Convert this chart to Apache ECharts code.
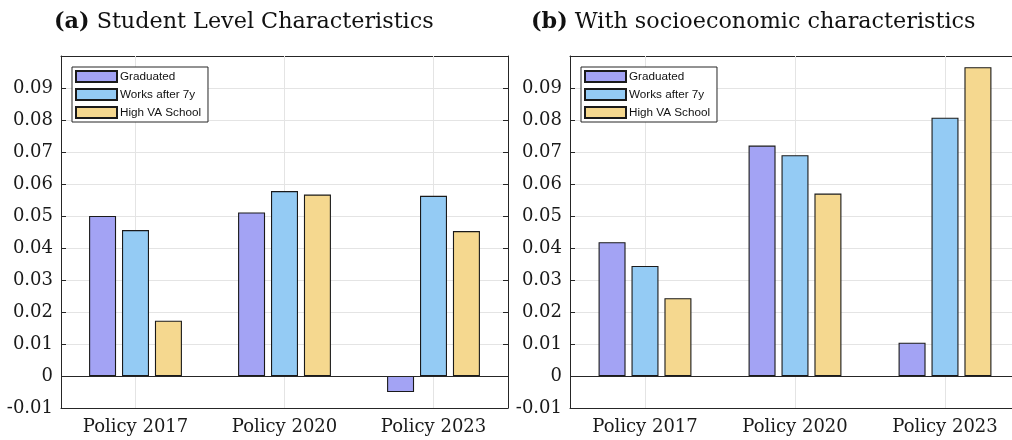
<!DOCTYPE html>
<html>
<head>
<meta charset="utf-8">
<script src="https://cdn.jsdelivr.net/npm/echarts@6/dist/echarts.min.js"></script>
<style>
  html, body { margin: 0; padding: 0; background: #fff; }
  #chart { width: 1012px; height: 440px; }
</style>
</head>
<body>
<div id="chart"></div>
<script>
// Policy groups on the x axis
const categories = ['Policy 2017', 'Policy 2020', 'Policy 2023'];
const seriesNames = ['Graduated', 'Works after 7y', 'High VA School'];

// Panel (a): student level characteristics
const studentGraduated = [0.0500, 0.0511, -0.0050];
const studentWorks     = [0.0456, 0.0578, 0.0563];
const studentHighVA    = [0.0173, 0.0567, 0.0453];

// Panel (b): with socioeconomic characteristics
const socioGraduated = [0.0418, 0.0720, 0.0104];
const socioWorks     = [0.0344, 0.0690, 0.0807];
const socioHighVA    = [0.0243, 0.0570, 0.0965];

// Value axis range shared by both panels
const yMin = -0.01;
const yMax = 0.10;
const yStep = 0.01;

const panelTitles = [
  { tag: '(a)', text: 'Student Level Characteristics' },
  { tag: '(b)', text: 'With socioeconomic characteristics' }
];

const colors = ['#a3a3f4', '#94cbf4', '#f5d88f'];
const serif = 'DejaVu Serif';
const ink = '#262626';

const chart = echarts.init(document.getElementById('chart'), null, { renderer: 'canvas' });

const grids = [
  { left: 61, top: 56, width: 447, height: 352 },
  { left: 570, top: 56, width: 450, height: 352 }
];
const titleLefts = [49, 526];

function fmtTick(v) {
  const r = Math.round(v * 100) / 100;
  if (Math.abs(r - yMax) < 1e-9) return '';
  if (r === 0) return '0';
  return r.toFixed(2);
}

const frameLine = { show: true, onZero: false, lineStyle: { color: ink, width: 1 } };

const xAxes = [], yAxes = [], series = [], legends = [], titles = [];
const panelData = [
  [studentGraduated, studentWorks, studentHighVA],
  [socioGraduated, socioWorks, socioHighVA]
];

grids.forEach((g, i) => {
  // bottom category axis with labels
  xAxes.push({
    type: 'category', gridIndex: i, data: categories, position: 'bottom',
    axisLine: frameLine,
    axisTick: { show: true, inside: true, length: 5, alignWithLabel: true, lineStyle: { color: ink } },
    axisLabel: { fontFamily: serif, fontSize: 18, color: '#1a1a1a', margin: 10 },
    splitLine: { show: false }
  });
  // top mirror axis: frame and ticks only
  xAxes.push({
    type: 'category', gridIndex: i, data: categories, position: 'top',
    axisLine: frameLine,
    axisTick: { show: true, inside: true, length: 5, alignWithLabel: true, lineStyle: { color: ink } },
    axisLabel: { show: false },
    splitLine: { show: false }
  });
  yAxes.push({
    type: 'value', gridIndex: i, min: yMin, max: yMax, interval: yStep, position: 'left',
    axisLine: frameLine,
    axisTick: { show: true, inside: true, length: 5, lineStyle: { color: ink } },
    axisLabel: { fontFamily: serif, fontSize: 18, color: '#1a1a1a', margin: 8, formatter: fmtTick },
    splitLine: { show: true, lineStyle: { color: '#e4e4e4', width: 1 } }
  });
  yAxes.push({
    type: 'value', gridIndex: i, min: yMin, max: yMax, interval: yStep, position: 'right',
    axisLine: frameLine,
    axisTick: { show: true, inside: true, length: 5, lineStyle: { color: ink } },
    axisLabel: { show: false },
    splitLine: { show: false }
  });

  const xi = i * 2, yi = i * 2;

  // vertical grid lines at the category centres, beneath the bars
  series.push({
    type: 'line', xAxisIndex: xi, yAxisIndex: yi, data: [], silent: true, z: 1,
    markLine: {
      silent: true, symbol: 'none', z: 1, animation: false,
      label: { show: false },
      lineStyle: { color: '#e4e4e4', type: 'solid', width: 1 },
      data: categories.map(c => ({ xAxis: c }))
    }
  });

  panelData[i].forEach((vals, k) => {
    series.push({
      name: seriesNames[k], type: 'bar', xAxisIndex: xi, yAxisIndex: yi,
      data: vals, barWidth: 27, barGap: '22%', z: 2,
      itemStyle: { color: colors[k], borderColor: '#1a1a1a', borderWidth: 1.1 },
      emphasis: { disabled: true },
      animation: false
    });
  });

  // baseline at zero
  series.push({
    type: 'line', xAxisIndex: xi, yAxisIndex: yi, data: [], silent: true, z: 3,
    markLine: {
      silent: true, symbol: 'none', z: 3, animation: false,
      label: { show: false },
      lineStyle: { color: ink, type: 'solid', width: 1 },
      data: [{ yAxis: 0 }]
    }
  });

  legends.push({
    data: seriesNames, orient: 'vertical',
    left: g.left + 11, top: 67,
    backgroundColor: '#fff', borderColor: ink, borderWidth: 1,
    padding: [3, 7, 3, 3],
    icon: 'rect',
    itemWidth: 41, itemHeight: 11, itemGap: 5,
    selectedMode: false,
    textStyle: { fontFamily: 'Liberation Sans', fontSize: 11.7, lineHeight: 11, color: '#111', padding: [0, 0, 0, -2] }
  });

  titles.push({
    text: '{b|' + panelTitles[i].tag + '} ' + panelTitles[i].text,
    left: titleLefts[i], top: 6,
    textStyle: { fontFamily: serif, fontSize: 22.3, fontWeight: 'normal', color: '#111',
      rich: { b: { fontFamily: serif, fontSize: 22.3, fontWeight: 'bold', color: '#111' } } }
  });
});

chart.setOption({
  animation: false,
  backgroundColor: '#fff',
  title: titles,
  legend: legends,
  grid: grids.map(g => Object.assign({
    show: false, containLabel: false, outerBoundsMode: 'none'
  }, g)),
  xAxis: xAxes,
  yAxis: yAxes,
  series: series
});
</script>
</body>
</html>
